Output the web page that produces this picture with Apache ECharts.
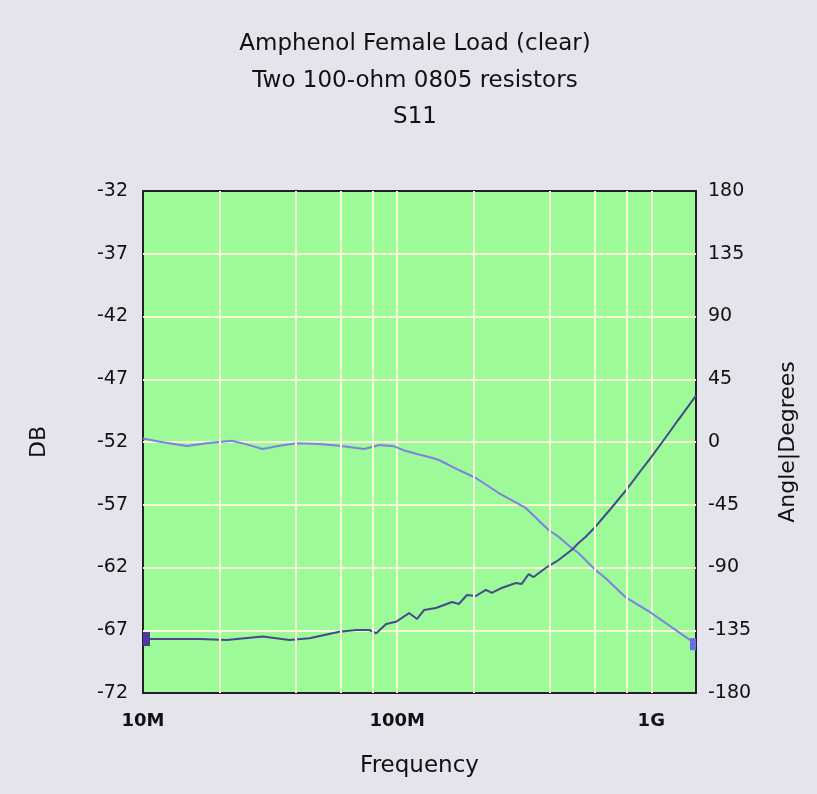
<!DOCTYPE html>
<html>
<head>
<meta charset="utf-8">
<script src="https://cdn.jsdelivr.net/npm/echarts@6/dist/echarts.min.js"></script>
<style>
  html, body { margin: 0; padding: 0; background: #e4e4ec; }
  #chart { width: 817px; height: 794px; }
</style>
</head>
<body>
<div id="chart"></div>
<script>
// ---- data (frequency in MHz) ----
const titleLines = ['Amphenol Female Load (clear)', 'Two 100-ohm 0805 resistors', 'S11'];

const dbFreqMHz = [10, 13.11, 16.73, 21.35, 29.56, 37.72, 45.18, 59.24, 69.07, 77.67, 82.73, 90.55, 99.1,
  111.4, 119.8, 127.6, 142.2, 164.4, 175.0, 188.2, 204.1, 223.4, 235.8, 258.1, 292.9, 309.2, 329.3, 344.6,
  384.0, 420.3, 431.8, 485.8, 517.4, 551.2, 603.2, 696.6, 798, 913.7, 1000, 1135, 1276, 1500];
const dbValues = [-67.70, -67.70, -67.70, -67.78, -67.50, -67.78, -67.64, -67.12, -66.98, -66.98, -67.24, -66.50, -66.32,
  -65.63, -66.10, -65.39, -65.23, -64.75, -64.91, -64.19, -64.27, -63.79, -64.03, -63.63, -63.24, -63.31, -62.52, -62.76,
  -62.04, -61.56, -61.40, -60.61, -60.05, -59.57, -58.75, -57.26, -55.82, -54.23, -53.20, -51.68, -50.25, -48.3];

const angFreqMHz = [10, 11.66, 14.88, 17.82, 22.34, 25.57, 29.56, 34.46, 40.18, 49.44, 59.24, 74.24, 85.03, 97.3,
  108.5, 119.8, 133.5, 146.1, 175.0, 204.1, 251.2, 320.6, 394.6, 431.8, 485.8, 517.4, 603.2, 660.0, 790.7, 1000, 1500];
const angValues = [2.5, 0.2, -2.9, -0.9, 0.9, -1.7, -5.0, -2.7, -0.9, -1.4, -2.7, -5.0, -2.2, -3.1,
  -6.5, -8.6, -10.8, -12.9, -20.1, -25.8, -36.6, -47.3, -63.1, -67.9, -76.0, -79.6, -91.8, -97.5, -111.2, -122.6, -145];

const xTickLabels = { 10: '10M', 100: '100M', 1000: '1G' };
const minorGridMHz = [20, 40, 60, 80, 200, 400, 600, 800];

// ---- build ----
const dbColor = '#48488e';
const angColor = '#8080e4';
const gridColor = '#f7f7d8';

const dbData = dbFreqMHz.map((f, i) => {
  const item = { value: [f, dbValues[i]] };
  if (i === 0) {
    item.symbol = 'rect'; item.symbolSize = [7, 14]; item.symbolOffset = [3.5, 0];
    item.itemStyle = { color: '#4a3d9c' };
  }
  return item;
});
const angData = angFreqMHz.map((f, i) => {
  const item = { value: [f, angValues[i]] };
  if (i === angFreqMHz.length - 1) {
    item.symbol = 'rect'; item.symbolSize = [6, 12]; item.symbolOffset = [-3, 0];
    item.itemStyle = { color: '#6e6ee0' };
  }
  return item;
});

const FONT = 'DejaVu Sans';
const chart = echarts.init(document.getElementById('chart'));
chart.setOption({
  backgroundColor: '#e4e4ec',
  animation: false,
  title: titleLines.map((t, i) => ({
    text: t,
    left: 415,
    textAlign: 'center',
    top: 33 + i * 36.5,
    padding: 0,
    textStyle: { fontFamily: FONT, fontSize: 23, fontWeight: 'normal', color: '#111' }
  })),
  grid: {
    left: 143, right: 121, top: 191, bottom: 101,
    show: true, backgroundColor: '#9cfa98', borderColor: '#222', borderWidth: 2
  },
  xAxis: {
    type: 'log', logBase: 10, min: 10, max: 1500,
    name: 'Frequency', nameLocation: 'middle', nameGap: 62,
    nameTextStyle: { fontFamily: FONT, fontSize: 23, color: '#111' },
    axisLine: { show: false }, axisTick: { show: false },
    axisLabel: {
      margin: 19, fontFamily: FONT, fontSize: 18, fontWeight: 'bold', color: '#111',
      formatter: v => { const k = Math.round(v); return xTickLabels[k] || ''; }
    },
    splitLine: { show: true, showMinLine: false, showMaxLine: false, lineStyle: { color: gridColor, width: 2 } }
  },
  yAxis: [{
    type: 'value', min: -72, max: -32, interval: 5, position: 'left',
    name: 'DB', nameLocation: 'middle', nameGap: 93,
    nameTextStyle: { fontFamily: FONT, fontSize: 22, color: '#111' },
    axisLine: { show: false }, axisTick: { show: false },
    axisLabel: { margin: 15, fontFamily: FONT, fontSize: 19, color: '#111' },
    splitLine: { show: true, showMinLine: false, showMaxLine: false, lineStyle: { color: gridColor, width: 2 } }
  }, {
    type: 'value', min: -180, max: 180, interval: 45, position: 'right',
    name: 'Angle|Degrees', nameLocation: 'middle', nameGap: 81,
    nameTextStyle: { fontFamily: FONT, fontSize: 22, color: '#111' },
    axisLine: { show: false }, axisTick: { show: false },
    axisLabel: { margin: 12, fontFamily: FONT, fontSize: 19, color: '#111' },
    splitLine: { show: false }
  }],
  series: [{
    type: 'line', data: [], z: 1, silent: true,
    markLine: {
      silent: true, symbol: 'none', label: { show: false },
      lineStyle: { color: gridColor, width: 2, type: 'solid' },
      emphasis: { disabled: true },
      data: minorGridMHz.map(f => ({ xAxis: f }))
    }
  }, {
    name: 'Angle', type: 'line', yAxisIndex: 1, z: 3,
    symbol: 'none', data: angData,
    lineStyle: { color: angColor, width: 2 }, itemStyle: { color: angColor }
  }, {
    name: 'DB', type: 'line', yAxisIndex: 0, z: 4,
    symbol: 'none', data: dbData,
    lineStyle: { color: dbColor, width: 2 }, itemStyle: { color: dbColor }
  }]
});
</script>
</body>
</html>
